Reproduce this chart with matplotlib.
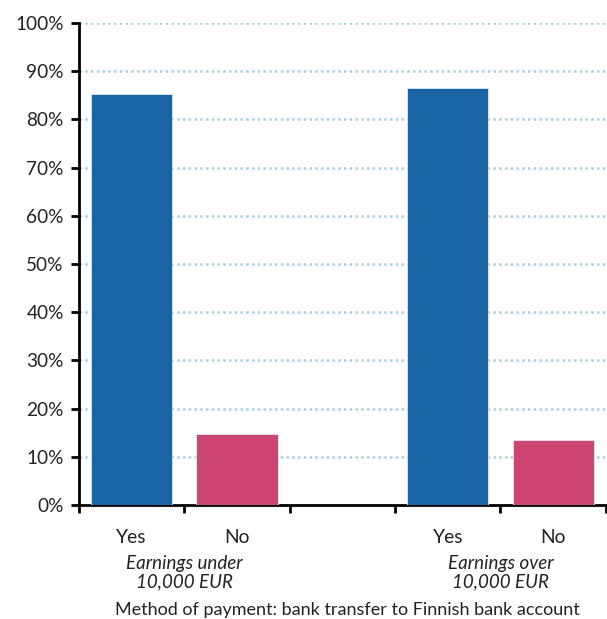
import matplotlib.pyplot as plt
import numpy as np

plt.rcParams["font.family"] = ["Lato", "DejaVu Sans"]

# Bar values (share of respondents, %)
categories = ["Yes", "No", "", "Yes", "No"]
shares = [85.3, 14.7, None, 86.5, 13.5]
bar_colors = ["#1a64a6", "#cc4573", None, "#1a64a6", "#cc4573"]
groups = ["Earnings under\n10,000 EUR", "Earnings over\n10,000 EUR"]
group_centers = [0.5, 3.5]
y_ticks = list(range(0, 101, 10))
x_title = "Method of payment: bank transfer to Finnish bank account"

fig = plt.figure(figsize=(6.07, 6.19), dpi=100)
ax = fig.add_axes([0.130, 0.184, 0.868, 0.779])

for i, (v, c) in enumerate(zip(shares, bar_colors)):
    if v is None:
        continue
    ax.bar(i, v, width=0.77, color=c, edgecolor="#dce9f5", linewidth=0.6, zorder=3)

ax.set_xlim(-0.5, len(categories) - 0.5)
ax.set_ylim(0, 100)
ax.set_yticks(y_ticks)
ax.set_yticklabels([f"{t}%" for t in y_ticks], fontsize=13.7, color="#222222")
for t in y_ticks[1:]:
    ax.axhline(t, color="#a9cfe0", linewidth=1.8, linestyle=(0, (1, 1.3)), zorder=1)

ax.set_xticks(np.arange(-0.5, len(categories)), minor=False)
ax.set_xticklabels([])
ax.set_xticks(range(len(categories)), minor=True)
ax.set_xticklabels(categories, minor=True, fontsize=13.9, color="#222222")
ax.tick_params(axis="x", which="minor", length=0, pad=17)
ax.tick_params(axis="x", which="major", length=6, width=2, direction="out")
ax.tick_params(axis="y", length=6, width=2, direction="out", pad=5)

for s in ("top", "right"):
    ax.spines[s].set_visible(False)
for s in ("left", "bottom"):
    ax.spines[s].set_linewidth(2)
    ax.spines[s].set_color("black")

for g, xc in zip(groups, group_centers):
    ax.text(xc, -0.140, g, transform=ax.get_xaxis_transform(), ha="center", va="center",
            fontsize=13.5, style="italic", color="#222222", linespacing=1.12)

fig.text(0.573, 0.0145, x_title, ha="center", va="center", fontsize=13, color="#222222")

fig.savefig("out.png", dpi=100)
